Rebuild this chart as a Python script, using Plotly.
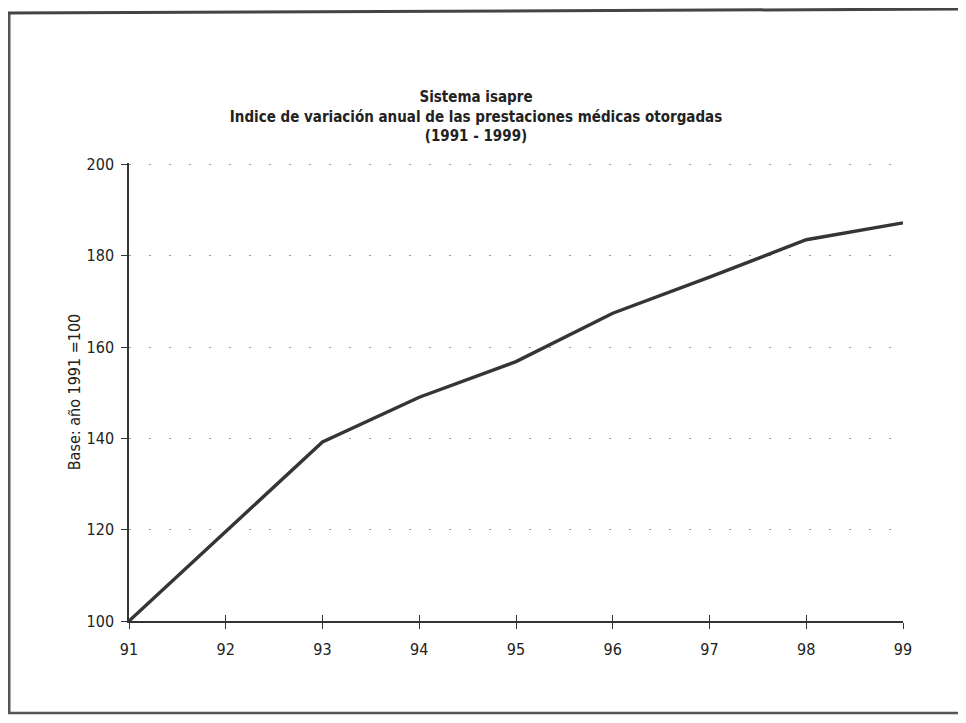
import plotly.graph_objects as go

# values (base 1991 = 100)
years = [91, 92, 93, 94, 95, 96, 97, 98, 99]
index_values = [100, 119.5, 139.2, 149.0, 156.8, 167.4, 175.3, 183.5, 187.2]
y_ticks = [100, 120, 140, 160, 180, 200]

FONT = "Liberation Sans Narrow, Arial Narrow, DejaVu Sans Condensed, sans-serif"
W, H = 966, 723
OFF = 8  # page body margin
L, R, T, B = 129 - OFF, 63 + OFF, 163 - OFF, 102 + OFF

fig = go.Figure()
fig.add_trace(go.Scatter(
    x=years, y=index_values, mode="lines",
    line=dict(color="#353535", width=3.4),
    showlegend=False, hoverinfo="x+y",
))
# invisible copy on an overlaying axis, only to get the upward tick marks
fig.add_trace(go.Scatter(x=years, y=index_values, xaxis="x2", mode="lines",
                         line=dict(width=0), showlegend=False, hoverinfo="skip"))

title_txt = ("<b>Sistema isapre</b><br><b>Indice de variación anual de las prestaciones médicas otorgadas</b>"
             "<br><b>(1991 - 1999)</b>")

fig.update_layout(
    width=W, height=H,
    paper_bgcolor="white", plot_bgcolor="white",
    margin=dict(l=L, r=R, t=T, b=B),
    font=dict(family=FONT, color="#222", size=15),
    title=dict(text=title_txt, x=(476 - OFF) / W,
               xanchor="center", y=1 - (102 - OFF) / H, yanchor="top",
               font=dict(family=FONT, size=15, color="#222")),
    xaxis=dict(range=[91, 99], tickvals=years, ticktext=[str(v) for v in years],
               showline=True, linecolor="#333", linewidth=1.5,
               ticks="outside", ticklen=6, tickcolor="#333",
               showgrid=False, zeroline=False, fixedrange=True,
               ticklabelstandoff=7,
               tickfont=dict(size=16, family=FONT)),
    xaxis2=dict(range=[91, 99], overlaying="x", anchor="y", side="bottom",
                tickvals=years, ticks="inside", ticklen=6, tickcolor="#333",
                showticklabels=False, showgrid=False, zeroline=False, showline=False),
    yaxis=dict(range=[100, 200.3], tickvals=y_ticks,
               showline=True, linecolor="#333", linewidth=1.5,
               ticks="outside", ticklen=6, tickcolor="#333",
               showgrid=True, gridcolor="#9a9a9a", griddash="2px,18px", gridwidth=1,
               zeroline=False, fixedrange=True,
               ticklabelstandoff=4,
               tickfont=dict(size=16, family=FONT),
               title=dict(text="Base: año 1991 =100", standoff=2,
                          font=dict(size=16, family=FONT))),
)

# outer frame of the scanned page (page pixel coords, shifted by body margin)
pw, ph = W - L - R, H - T - B
def px_x(v):
    return (v - OFF - L) / pw
def px_y(v):
    return 1 - (v - OFF - T) / ph

fig.add_shape(type="line", xref="paper", yref="paper",
              x0=px_x(9), x1=px_x(9), y0=px_y(12), y1=px_y(712),
              line=dict(color="#555", width=3))
fig.add_shape(type="line", xref="paper", yref="paper",
              x0=px_x(8), x1=px_x(975), y0=px_y(13), y1=px_y(9),
              line=dict(color="#444", width=3))
fig.add_shape(type="line", xref="paper", yref="paper",
              x0=px_x(8), x1=px_x(975), y0=px_y(713), y1=px_y(713),
              line=dict(color="#555", width=2.5))

fig.write_html("out.html")
